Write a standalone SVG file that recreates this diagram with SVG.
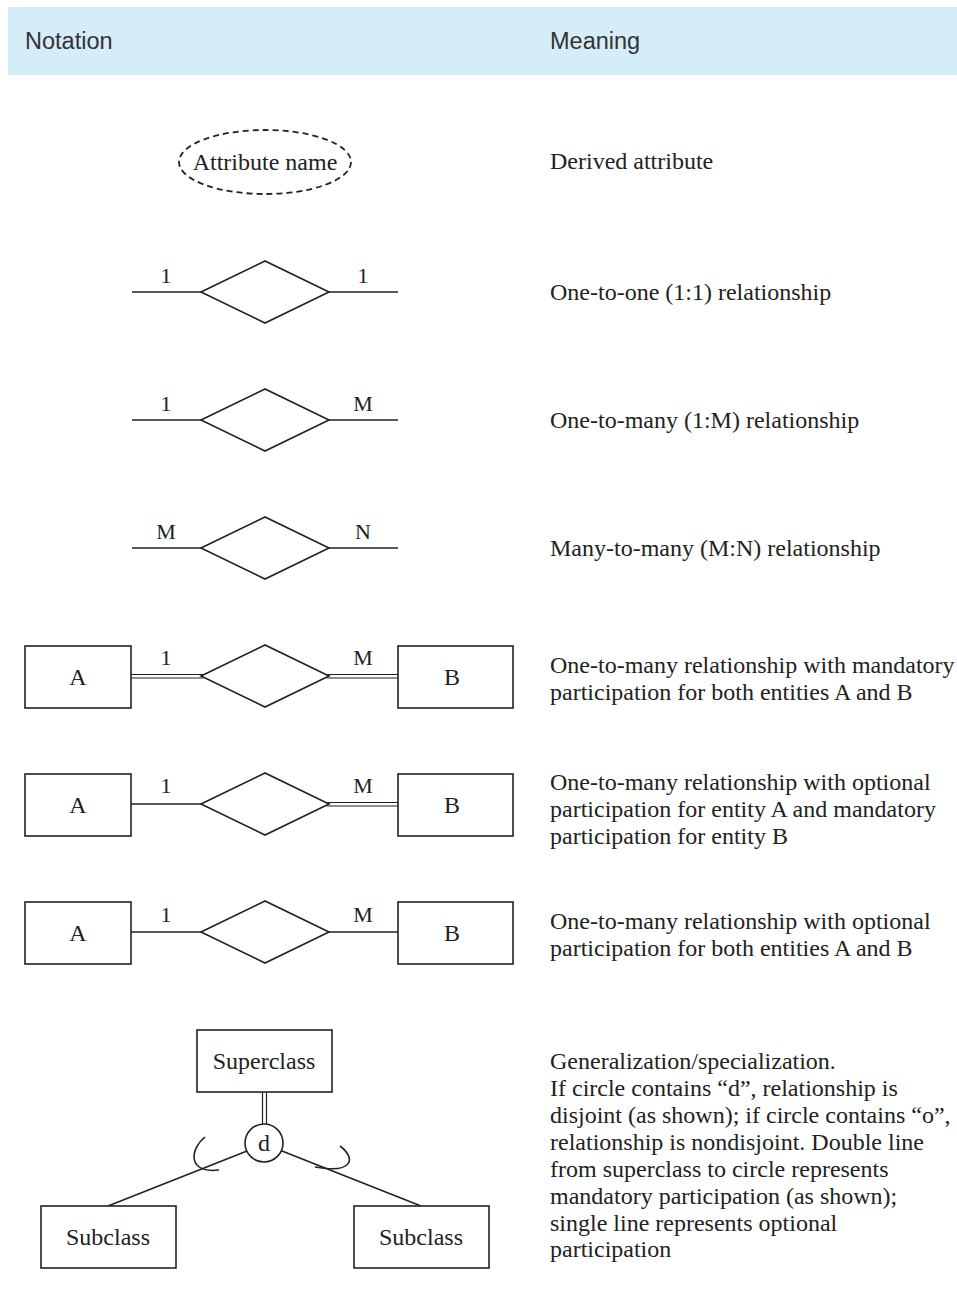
<svg xmlns="http://www.w3.org/2000/svg" width="957" height="1290" viewBox="0 0 957 1290">
<style>
.hd{font-family:"Liberation Sans",Arial,sans-serif;font-size:23.5px;fill:#333;}
.t{font-family:'Liberation Serif',serif;font-size:24px;fill:#222;}
.lb{font-family:'Liberation Serif',serif;font-size:22px;fill:#222;}
.s{fill:#fff;stroke:#222;stroke-width:1.6;}
.ln{stroke:#222;stroke-width:1.6;fill:none;}
.dl{stroke:#222;stroke-width:1.2;fill:none;}
</style>
<rect x="8" y="7" width="949" height="68" fill="#d5ecf9"/>
<text class="hd" x="25" y="49">Notation</text>
<text class="hd" x="550" y="49">Meaning</text>

<g id="connectors">
<line class="ln" x1="132" y1="292" x2="201" y2="292"/><line class="ln" x1="329" y1="292" x2="398" y2="292"/>
<line class="ln" x1="132" y1="420" x2="201" y2="420"/><line class="ln" x1="329" y1="420" x2="398" y2="420"/>
<line class="ln" x1="132" y1="548" x2="201" y2="548"/><line class="ln" x1="329" y1="548" x2="398" y2="548"/>
<line class="dl" x1="131" y1="674.5" x2="203" y2="674.5"/><line class="dl" x1="131" y1="678" x2="203" y2="678"/>
<line class="dl" x1="327" y1="674.5" x2="398" y2="674.5"/><line class="dl" x1="327" y1="678" x2="398" y2="678"/>
<line class="ln" x1="131" y1="804" x2="201" y2="804"/>
<line class="dl" x1="327" y1="802.5" x2="398" y2="802.5"/><line class="dl" x1="327" y1="806" x2="398" y2="806"/>
<line class="ln" x1="131" y1="932" x2="201" y2="932"/><line class="ln" x1="329" y1="932" x2="398" y2="932"/>
<line class="dl" x1="262.5" y1="1092" x2="262.5" y2="1125"/><line class="dl" x1="266.5" y1="1092" x2="266.5" y2="1125"/>
<line class="ln" x1="247" y1="1151" x2="108" y2="1206"/>
<line class="ln" x1="282" y1="1151" x2="421" y2="1206"/>
<path class="ln" d="M205,1137 C189,1150 188,1174 219,1170"/>
<path class="ln" d="M340,1146 C356,1158 354,1174 315,1167"/>
</g>

<g id="attr"><ellipse cx="265" cy="162" rx="86" ry="32" fill="none" stroke="#222" stroke-width="1.8" stroke-dasharray="6,4"/>
<text class="t" x="265" y="170" text-anchor="middle">Attribute name</text></g>

<g id="rel1"><polygon class="s" points="201,292 265,261 329,292 265,323"/><text class="lb" x="166" y="283" text-anchor="middle">1</text><text class="lb" x="363" y="283" text-anchor="middle">1</text></g>
<g id="rel2"><polygon class="s" points="201,420 265,389 329,420 265,451"/><text class="lb" x="166" y="411" text-anchor="middle">1</text><text class="lb" x="363" y="411" text-anchor="middle">M</text></g>
<g id="rel3"><polygon class="s" points="201,548 265,517 329,548 265,579"/><text class="lb" x="166" y="539" text-anchor="middle">M</text><text class="lb" x="363" y="539" text-anchor="middle">N</text></g>

<g id="row4"><rect class="s" x="25" y="646" width="106" height="62"/><text class="t" x="78" y="685" text-anchor="middle">A</text>
<polygon class="s" points="201,676 265,645 329,676 265,707"/>
<rect class="s" x="398" y="646" width="115" height="62"/><text class="t" x="452" y="685" text-anchor="middle">B</text>
<text class="lb" x="166" y="665" text-anchor="middle">1</text><text class="lb" x="363" y="665" text-anchor="middle">M</text></g>

<g id="row5"><rect class="s" x="25" y="774" width="106" height="62"/><text class="t" x="78" y="813" text-anchor="middle">A</text>
<polygon class="s" points="201,804 265,773 329,804 265,835"/>
<rect class="s" x="398" y="774" width="115" height="62"/><text class="t" x="452" y="813" text-anchor="middle">B</text>
<text class="lb" x="166" y="793" text-anchor="middle">1</text><text class="lb" x="363" y="793" text-anchor="middle">M</text></g>

<g id="row6"><rect class="s" x="25" y="902" width="106" height="62"/><text class="t" x="78" y="941" text-anchor="middle">A</text>
<polygon class="s" points="201,932 265,901 329,932 265,963"/>
<rect class="s" x="398" y="902" width="115" height="62"/><text class="t" x="452" y="941" text-anchor="middle">B</text>
<text class="lb" x="166" y="922" text-anchor="middle">1</text><text class="lb" x="363" y="922" text-anchor="middle">M</text></g>

<g id="superclass"><rect class="s" x="197" y="1030" width="135" height="62"/><text class="t" x="264" y="1069" text-anchor="middle">Superclass</text></g>
<g id="circle"><circle class="s" cx="264" cy="1143" r="19"/><text class="t" x="264" y="1151" text-anchor="middle">d</text></g>
<g id="sub1"><rect class="s" x="41" y="1206" width="135" height="62"/><text class="t" x="108" y="1245" text-anchor="middle">Subclass</text></g>
<g id="sub2"><rect class="s" x="354" y="1206" width="135" height="62"/><text class="t" x="421" y="1245" text-anchor="middle">Subclass</text></g>

<g id="meanings">
<text class="t" x="550" y="169">Derived attribute</text>
<text class="t" x="550" y="300">One-to-one (1:1) relationship</text>
<text class="t" x="550" y="428">One-to-many (1:M) relationship</text>
<text class="t" x="550" y="556">Many-to-many (M:N) relationship</text>
<text class="t" x="550" y="673">One-to-many relationship with mandatory</text>
<text class="t" x="550" y="700">participation for both entities A and B</text>
<text class="t" x="550" y="790">One-to-many relationship with optional</text>
<text class="t" x="550" y="817">participation for entity A and mandatory</text>
<text class="t" x="550" y="844">participation for entity B</text>
<text class="t" x="550" y="929">One-to-many relationship with optional</text>
<text class="t" x="550" y="956">participation for both entities A and B</text>
<text class="t" x="550" y="1069">Generalization/specialization.</text>
<text class="t" x="550" y="1096">If circle contains “d”, relationship is</text>
<text class="t" x="550" y="1123">disjoint (as shown); if circle contains “o”,</text>
<text class="t" x="550" y="1150">relationship is nondisjoint. Double line</text>
<text class="t" x="550" y="1177">from superclass to circle represents</text>
<text class="t" x="550" y="1204">mandatory participation (as shown);</text>
<text class="t" x="550" y="1231">single line represents optional</text>
<text class="t" x="550" y="1257">participation</text>
</g>
</svg>
